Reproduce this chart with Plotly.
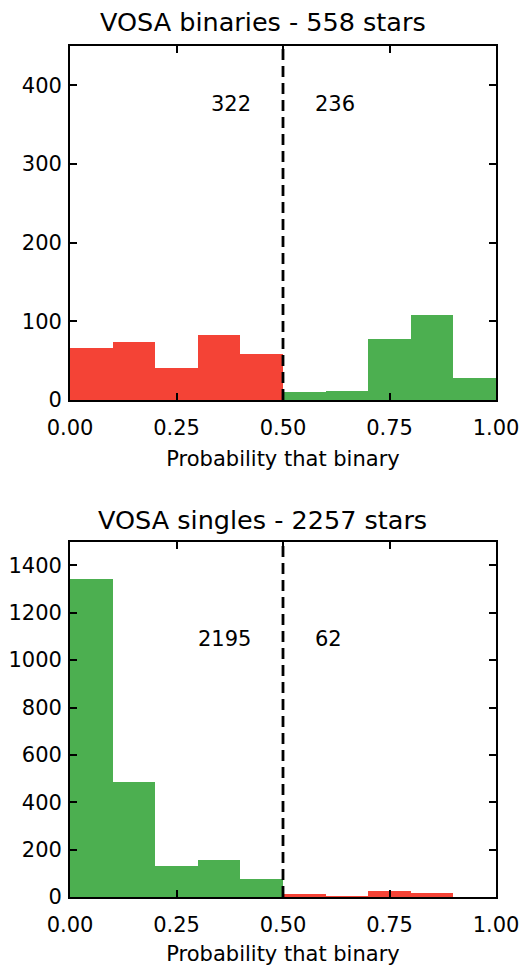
import plotly.graph_objects as go

# Data
bin_centers = [0.05, 0.15, 0.25, 0.35, 0.45, 0.55, 0.65, 0.75, 0.85, 0.95]
bin_width = 0.1

bin_counts = [66, 74, 41, 83, 58, 10, 12, 78, 108, 28]   # VOSA binaries
single_counts = [1343, 485, 134, 157, 76, 12, 6, 25, 19, 0]  # VOSA singles

bin_colors = ["#F44336"] * 5 + ["#4CAF50"] * 5
single_colors = ["#4CAF50"] * 5 + ["#F44336"] * 5

top_title = "VOSA binaries - 558 stars"
bot_title = "VOSA singles - 2257 stars"
top_left_count, top_right_count = "322", "236"
bot_left_count, bot_right_count = "2195", "62"
threshold = 0.5

x_ticks = [0, 0.25, 0.5, 0.75, 1.0]
top_yticks = [0, 100, 200, 300, 400]
bot_yticks = [0, 200, 400, 600, 800, 1000, 1200, 1400]

W, H = 525, 966
FONT = "DejaVu Sans"
FS = 21

fig = go.Figure()
fig.add_trace(go.Bar(x=bin_centers, y=bin_counts, width=bin_width,
                     marker=dict(color=bin_colors, line=dict(width=0)),
                     xaxis="x", yaxis="y", showlegend=False))
fig.add_trace(go.Bar(x=bin_centers, y=single_counts, width=bin_width,
                     marker=dict(color=single_colors, line=dict(width=0)),
                     xaxis="x2", yaxis="y2", showlegend=False))

xdom = [70 / W, 496 / W]
top_dom = [1 - 400 / H, 1 - 46 / H]
bot_dom = [1 - 897 / H, 1 - 541.7 / H]

axis_common = dict(showline=True, linecolor="black", linewidth=1.8, mirror="ticks",
                   ticks="inside", ticklen=7, tickwidth=1.6, tickcolor="black",
                   showgrid=False, zeroline=False, automargin=False,
                   tickfont=dict(family=FONT, size=FS, color="black"))

xcommon = dict(axis_common, range=[0, 1], tickvals=x_ticks,
               ticktext=[f"{v:.2f}" for v in x_ticks], ticklabelstandoff=8,
               title=dict(text="Probability that binary",
                          font=dict(family=FONT, size=FS, color="black"), standoff=12))

fig.update_layout(
    width=W, height=H,
    margin=dict(l=0, r=0, t=0, b=0),
    plot_bgcolor="white", paper_bgcolor="white",
    bargap=0,
    font=dict(family=FONT, color="black"),
    xaxis=dict(xcommon, domain=xdom, anchor="y"),
    yaxis=dict(axis_common, domain=top_dom, anchor="x", range=[0, 450],
               tickvals=top_yticks, ticklabelstandoff=2),
    xaxis2=dict(xcommon, domain=xdom, anchor="y2"),
    yaxis2=dict(axis_common, domain=bot_dom, anchor="x2", range=[0, 1500],
                tickvals=bot_yticks, ticklabelstandoff=2),
)

# Dashed threshold lines
for xr, yr in [("x", "y"), ("x2", "y2")]:
    fig.add_shape(type="line", xref=xr, yref=f"{yr} domain", x0=threshold, x1=threshold,
                  y0=0, y1=1, line=dict(color="black", width=2.8, dash="11px,6px"))

# Count annotations
ann_font = dict(family=FONT, size=FS, color="black")
fig.add_annotation(x=0.43, y=376, xref="x", yref="y", text=top_left_count,
                   showarrow=False, xanchor="right", font=ann_font)
fig.add_annotation(x=0.57, y=376, xref="x", yref="y", text=top_right_count,
                   showarrow=False, xanchor="left", font=ann_font)
fig.add_annotation(x=0.43, y=1091, xref="x2", yref="y2", text=bot_left_count,
                   showarrow=False, xanchor="right", font=ann_font)
fig.add_annotation(x=0.57, y=1091, xref="x2", yref="y2", text=bot_right_count,
                   showarrow=False, xanchor="left", font=ann_font)

# Titles
title_font = dict(family=FONT, size=25.5, color="black")
fig.add_annotation(x=0.5, y=1 - 22 / H, xref="paper", yref="paper", xanchor="center",
                   yanchor="middle", text=top_title, showarrow=False, font=title_font)
fig.add_annotation(x=0.5, y=1 - 520 / H, xref="paper", yref="paper", xanchor="center",
                   yanchor="middle", text=bot_title, showarrow=False, font=title_font)

fig.write_html("out.html", config={"displayModeBar": False},
               post_script="document.body.style.margin='0';")
